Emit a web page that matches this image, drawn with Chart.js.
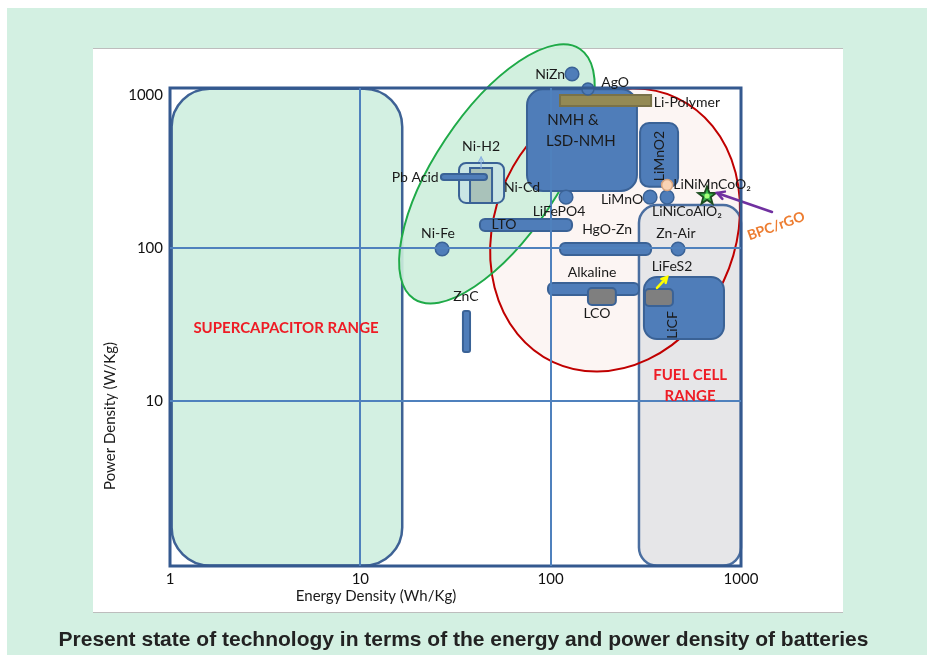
<!DOCTYPE html>
<html>
<head>
<meta charset="utf-8">
<script src="https://cdn.jsdelivr.net/npm/chart.js@4.4.1/dist/chart.umd.min.js"></script>
<style>
  html, body { margin: 0; padding: 0; }
  body { width: 927px; height: 655px; background: #D3F0E2; position: relative; overflow: hidden; }
  .strip-top { position: absolute; left: 0; top: 0; width: 927px; height: 8px; background: #fff; }
  .strip-left { position: absolute; left: 0; top: 0; width: 7px; height: 655px; background: #fff; }
  .card { position: absolute; left: 93px; top: 48px; width: 750px; height: 563px; background: #fff;
          border-top: 1px solid #bdbdbd; border-bottom: 1px solid #bdbdbd; }
  #chart { position: absolute; left: 0; top: 0; }
  .caption { position: absolute; left: 0; top: 627px; width: 927px; text-align: center;
             font: bold 21px "Liberation Sans", Arial, sans-serif; color: #222; }
</style>
</head>
<body>
<div class="strip-top"></div>
<div class="strip-left"></div>
<div class="card"></div>
<canvas id="chart" width="927" height="655"></canvas>
<div class="caption">Present state of technology in terms of the energy and power density of batteries</div>

<script>
// ---- axes ----
const xTicks = [1, 10, 100, 1000];
const yTicks = [10, 100, 1000];

// ---- big ranges (Wh/Kg , W/Kg) ----
const regionNames = ["Supercapacitor", "Fuel cell"];
const regionX1 = [1.02, 291];
const regionX2 = [16.6, 1000];
const regionY1 = [0.84, 0.84];
const regionY2 = [1100, 191];

// ---- ellipses: centre, end of long axis, end of short axis ----
const ellipseNames = ["Red", "Green"];
const ellipseCX = [218, 52.2];
const ellipseCY = [131, 305];
const ellipseMajX = [461, 142.6];
const ellipseMajY = [955, 1998];
const ellipseMinX = [811, 97.5];
const ellipseMinY = [61.0, 181.8];

// ---- battery boxes and bars ----
const boxNames = ["Ni-Cd", "Ni-H2", "Pb Acid", "LTO", "HgO-Zn", "Alkaline", "LCO", "ZnC",
                  "NMH & LSD-NMH", "LiMnO2", "Li-Polymer", "LiCF", "LiFeS2"];
const boxX1 = [33.0, 37.7, 26.5, 42.5, 112, 96.8, 157, 34.6, 75.1, 295, 112, 309, 313];
const boxX2 = [56.9, 49.2, 46.3, 129.5, 337, 291, 220, 37.7, 284, 467, 337, 814, 439];
const boxY1 = [197, 197, 278, 129, 90, 49.3, 42.4, 20.9, 236, 251, 847, 25.4, 41.8];
const boxY2 = [360, 333, 305, 155, 108, 59.0, 54.8, 38.7, 1090, 656, 1000, 64.6, 54.0];

// ---- single chemistries ----
const pointNames = ["NiZn", "AgO", "LiFePO4", "LiMnO", "LiNiCoAlO2", "LiNiMnCoO2", "Ni-Fe", "Zn-Air"];
const pointX = [129.5, 157, 120.4, 333, 409, 409, 26.9, 467];
const pointY = [1371, 1094, 215, 215, 215, 258, 98.5, 98.5];

const starX = [663];
const starY = [219];

// ---- arrows ----
const arrowNames = ["Ni-H2", "LiFeS2", "BPC/rGO"];
const arrowFromX = [43.1, 362, 1455];
const arrowFromY = [333, 54.8, 172];
const arrowToX = [43.1, 409, 748];
const arrowToY = [393, 64.6, 229];

// ---- text ----
const labelTexts = ["NiZn", "AgO", "Li-Polymer", "NMH &", "LSD-NMH", "LiMnO2", "Ni-H2", "Pb Acid", "Ni-Cd",
                    "LiNiMnCoO₂", "LiMnO", "LiNiCoAlO₂", "LiFePO4", "LTO", "HgO-Zn", "Ni-Fe", "Zn-Air",
                    "LiFeS2", "Alkaline", "LCO", "LiCF", "ZnC", "SUPERCAPACITOR RANGE", "FUEL CELL", "RANGE", "BPC/rGO"];
const labelX = [99.3, 218, 520, 131, 144, 371, 43.1, 19.4, 70.7,
                705, 237, 520, 110.6, 56.9, 198, 25.6, 455,
                434, 165, 175, 434, 35.9, 4.07, 540, 540, 1528];
const labelY = [1352, 1216, 900, 687, 500, 399, 464, 287, 247,
                262, 209, 172, 172, 143.5, 133, 125, 125,
                75.2, 68.7, 37.6, 31.4, 47.9, 30.0, 14.8, 10.8, 139];

// styles
const BLUE = "#4F7DB9", BLUE_EDGE = "#3A6296";
const boxStyle = {
  "Ni-Cd": { fill: "#C9E5E4", edge: BLUE_EDGE, r: 7 },
  "Ni-H2": { fill: "#A9C2BA", edge: BLUE_EDGE, r: 0 },
  "Li-Polymer": { fill: "#948A54", edge: "#7A7248", r: 0 },
  "LCO": { fill: "#7F7F7F", edge: BLUE_EDGE, r: 4 },
  "LiFeS2": { fill: "#7F7F7F", edge: BLUE_EDGE, r: 4 },
  "NMH & LSD-NMH": { fill: BLUE, edge: BLUE_EDGE, r: 16 },
  "LiMnO2": { fill: BLUE, edge: BLUE_EDGE, r: 9 },
  "LiCF": { fill: BLUE, edge: BLUE_EDGE, r: 13 },
  "ZnC": { fill: BLUE, edge: BLUE_EDGE, r: 2 }
};
const arrowStyle = {
  "Ni-H2": { color: "#8DB3E2", width: 1.2, head: 5 },
  "LiFeS2": { color: "#FFFF00", width: 2.5, head: 6 },
  "BPC/rGO": { color: "#7030A0", width: 2.5, head: 8 }
};
const labelStyle = {
  "NMH &": { size: 15 },
  "LSD-NMH": { size: 15 },
  "LiMnO2": { rot: -90 },
  "LiCF": { rot: -90 },
  "SUPERCAPACITOR RANGE": { color: "#EE1C25", bold: true, size: 15 },
  "FUEL CELL": { color: "#EE1C25", bold: true, size: 15 },
  "RANGE": { color: "#EE1C25", bold: true, size: 15 },
  "BPC/rGO": { color: "#ED7D31", bold: true, size: 14, rot: -20 }
};
const FONT = "Lato, 'Open Sans', sans-serif";
const pointFill = n => n === "LiNiMnCoO2" ? "#FAD3B4" : "#4F7DB9";
const pointEdge = n => n === "LiNiMnCoO2" ? "#D9A47E" : "#3A6296";
const pointSize = n => n === "LiNiMnCoO2" ? 5.5 : (n === "AgO" ? 6 : 6.8);

const shapesPlugin = {
  id: "shapes",
  beforeDatasetsDraw(chart) {
    const { ctx, scales: { x, y } } = chart;
    const X = v => x.getPixelForValue(v), Y = v => y.getPixelForValue(v);

    function boxPath(x1, x2, y1, y2, r) {
      const l = X(x1), rt = X(x2), t = Y(y2), b = Y(y1);
      ctx.beginPath();
      ctx.roundRect(l, t, rt - l, b - t, r);
    }
    function ellipsePath(i) {
      const cx = X(ellipseCX[i]), cy = Y(ellipseCY[i]);
      const mx = X(ellipseMajX[i]), my = Y(ellipseMajY[i]);
      const nx = X(ellipseMinX[i]), ny = Y(ellipseMinY[i]);
      ctx.beginPath();
      ctx.ellipse(cx, cy, Math.hypot(mx - cx, my - cy), Math.hypot(nx - cx, ny - cy),
                  Math.atan2(my - cy, mx - cx), 0, Math.PI * 2);
    }

    ctx.save();
    // supercapacitor range
    boxPath(regionX1[0], regionX2[0], regionY1[0], regionY2[0], 38);
    ctx.fillStyle = "#D3F0E2"; ctx.fill();
    ctx.strokeStyle = "#3E6295"; ctx.lineWidth = 2.5; ctx.stroke();

    // red ellipse fill
    ellipsePath(0);
    ctx.fillStyle = "#FCF5F3"; ctx.fill();

    // fuel cell range
    boxPath(regionX1[1], regionX2[1], regionY1[1], regionY2[1], 18);
    ctx.fillStyle = "#E6E6E8"; ctx.fill();
    ctx.strokeStyle = "#4A6EA0"; ctx.lineWidth = 2.5; ctx.stroke();

    // green ellipse fill
    ellipsePath(1);
    ctx.fillStyle = "rgba(205,238,219,0.9)"; ctx.fill();

    // outlines
    ellipsePath(0);
    ctx.strokeStyle = "#C00000"; ctx.lineWidth = 2; ctx.stroke();
    ellipsePath(1);
    ctx.strokeStyle = "#1FAA48"; ctx.lineWidth = 2; ctx.stroke();

    // battery boxes
    boxNames.forEach((n, i) => {
      const st = boxStyle[n] || { fill: BLUE, edge: BLUE_EDGE, r: 5 };
      boxPath(boxX1[i], boxX2[i], boxY1[i], boxY2[i], st.r);
      ctx.fillStyle = st.fill; ctx.fill();
      ctx.strokeStyle = st.edge; ctx.lineWidth = 2; ctx.stroke();
    });
    ctx.restore();
  },
  afterDatasetsDraw(chart) {
    const { ctx, chartArea: a, scales: { x, y } } = chart;
    const X = v => x.getPixelForValue(v), Y = v => y.getPixelForValue(v);
    ctx.save();

    // points above the frame (Chart.js skips points outside the chart area)
    chart.getDatasetMeta(0).data.forEach((pt, i) => {
      if (pt.y >= a.top - 1) return;
      const n = pointNames[i];
      ctx.beginPath(); ctx.arc(pt.x, pt.y, pointSize(n), 0, Math.PI * 2);
      ctx.fillStyle = pointFill(n); ctx.fill();
      ctx.strokeStyle = pointEdge(n); ctx.lineWidth = 1.5; ctx.stroke();
    });

    // star
    starX.forEach((sx, i) => {
      const cx = X(sx), cy = Y(starY[i]);
      ctx.beginPath();
      for (let k = 0; k < 10; k++) {
        const rr = k % 2 ? 4 : 9.5, ang = -Math.PI / 2 + k * Math.PI / 5;
        ctx.lineTo(cx + rr * Math.cos(ang), cy + rr * Math.sin(ang));
      }
      ctx.closePath();
      ctx.fillStyle = "#39B54A"; ctx.fill();
      ctx.strokeStyle = "#1D4D20"; ctx.lineWidth = 1.8; ctx.stroke();
      ctx.beginPath(); ctx.arc(cx, cy, 2.5, 0, Math.PI * 2);
      ctx.fillStyle = "#A8FF7A"; ctx.fill();
    });

    // arrows
    arrowNames.forEach((n, i) => {
      const st = arrowStyle[n];
      const x1 = X(arrowFromX[i]), y1 = Y(arrowFromY[i]), x2 = X(arrowToX[i]), y2 = Y(arrowToY[i]);
      const ang = Math.atan2(y2 - y1, x2 - x1);
      ctx.strokeStyle = st.color; ctx.lineWidth = st.width; ctx.lineCap = "round";
      ctx.beginPath(); ctx.moveTo(x1, y1); ctx.lineTo(x2, y2); ctx.stroke();
      ctx.beginPath();
      ctx.moveTo(x2 - st.head * Math.cos(ang - 0.5), y2 - st.head * Math.sin(ang - 0.5));
      ctx.lineTo(x2, y2);
      ctx.lineTo(x2 - st.head * Math.cos(ang + 0.5), y2 - st.head * Math.sin(ang + 0.5));
      ctx.stroke();
    });

    // plot frame
    ctx.strokeStyle = "#34598F"; ctx.lineWidth = 3;
    ctx.strokeRect(a.left, a.top, a.right - a.left, a.bottom - a.top);
    ctx.restore();
  },
  afterDraw(chart) {
    const { ctx, chartArea: a, scales: { x, y } } = chart;
    const X = v => x.getPixelForValue(v), Y = v => y.getPixelForValue(v);
    ctx.save();
    ctx.textAlign = "center"; ctx.textBaseline = "middle";
    labelTexts.forEach((t, i) => {
      const st = labelStyle[t] || {};
      ctx.font = (st.bold ? "bold " : "") + (st.size || 14) + "px " + FONT;
      ctx.fillStyle = st.color || "#1A1A1A";
      ctx.save();
      ctx.translate(X(labelX[i]), Y(labelY[i]));
      if (st.rot) ctx.rotate(st.rot * Math.PI / 180);
      ctx.fillText(t, 0, 0);
      ctx.restore();
    });

    // axis titles
    ctx.font = "15px " + FONT; ctx.fillStyle = "#1A1A1A";
    ctx.fillText("Energy Density (Wh/Kg)", a.left + 206, a.bottom + 30);
    ctx.translate(a.left - 60, a.top + 328);
    ctx.rotate(-Math.PI / 2);
    ctx.fillText("Power Density (W/Kg)", 0, 0);
    ctx.restore();
  }
};

const gridColor = c => (c.tick && (c.tick.value === 10 || c.tick.value === 100)) ? "#4F81BD" : "rgba(0,0,0,0)";

new Chart(document.getElementById("chart"), {
  type: "scatter",
  data: {
    datasets: [{
      data: pointX.map((v, i) => ({ x: v, y: pointY[i] })),
      backgroundColor: pointNames.map(pointFill),
      borderColor: pointNames.map(pointEdge),
      pointRadius: pointNames.map(pointSize),
      borderWidth: 1.5,
      clip: false
    }]
  },
  options: {
    responsive: false,
    animation: false,
    layout: { padding: { left: 0, top: 88, right: 186, bottom: 0 } },
    plugins: { legend: { display: false }, tooltip: { enabled: false } },
    scales: {
      x: {
        type: "logarithmic",
        min: 1, max: 1000,
        afterBuildTicks: s => { s.ticks = xTicks.map(v => ({ value: v })); },
        afterFit: s => { s.height = 89; },
        grid: { color: gridColor, lineWidth: 2, drawTicks: false, z: 1 },
        border: { display: false },
        ticks: { font: { family: FONT, size: 15 }, color: "#111", padding: 4,
                 autoSkip: false, maxRotation: 0, callback: v => String(v) }
      },
      y: {
        type: "logarithmic",
        min: 0.835, max: 1111,
        afterBuildTicks: s => { s.ticks = yTicks.map(v => ({ value: v })); },
        afterFit: s => { s.width = 170; },
        grid: { color: gridColor, lineWidth: 2, drawTicks: false, z: 1 },
        border: { display: false },
        ticks: { font: { family: FONT, size: 15 }, color: "#111", padding: 7,
                 autoSkip: false, callback: v => String(v) }
      }
    }
  },
  plugins: [shapesPlugin]
});
</script>
</body>
</html>
